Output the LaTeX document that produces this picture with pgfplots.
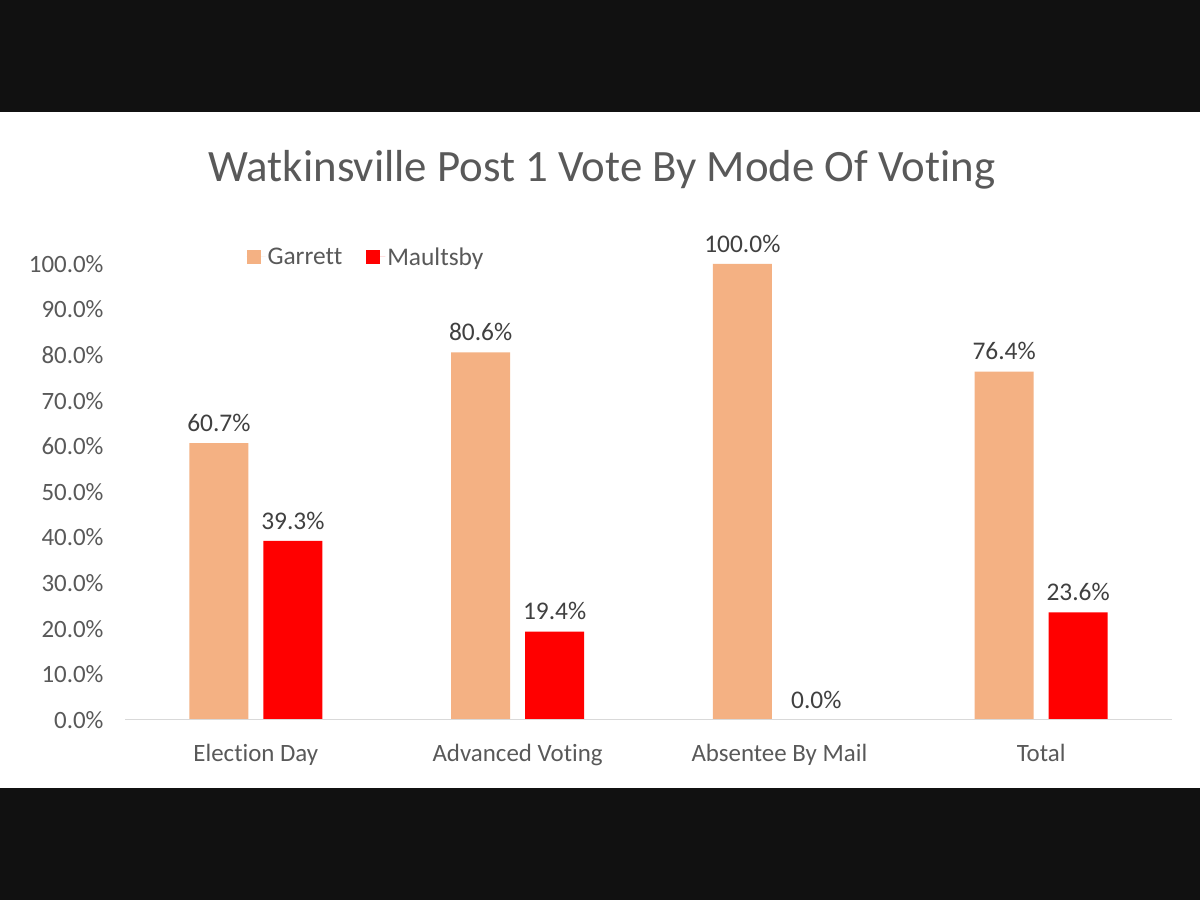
\documentclass[border=0pt]{standalone}
\usepackage{fontspec}
\setmainfont{Carlito}[Ligatures={NoCommon}]
\usepackage{pgfplots}
\pgfplotsset{compat=1.18}
\definecolor{garrett}{HTML}{F4B183}
\definecolor{maultsby}{HTML}{FF0000}
\definecolor{txt}{HTML}{595959}
\definecolor{lbl}{HTML}{404040}
\definecolor{band}{HTML}{111111}
\begin{document}
\begin{tikzpicture}[x=1bp,y=1bp]
\useasboundingbox (0,0) rectangle (1200,900);
\fill[band] (0,0) rectangle (1200,900);
\fill[white] (0,112) rectangle (1200,788);
\node[text=txt,font=\fontsize{45}{52}\selectfont] at (602,730) {Watkinsville Post 1 Vote By Mode Of Voting};
\begin{axis}[
  at={(125bp,180bp)}, anchor=south west,
  scale only axis, width=1047bp, height=456bp,
  xmin=-0.5, xmax=3.5, ymin=0, ymax=100,
  ybar=15bp, bar width=59bp,
  axis y line*=left,
  y axis line style={draw=none},
  axis x line*=bottom,
  x axis line style={draw=black!15, line width=1bp},
  axis on top,
  xtick={0,1,2,3},
  xticklabels={Election Day, Advanced Voting, Absentee By Mail, Total},
  major tick length=0pt,
  xticklabel style={text=txt, font=\fontsize{25}{28}\selectfont, yshift=-21bp},
  ytick={0,10,...,100},
  yticklabel={\pgfmathprintnumber[fixed,fixed zerofill,precision=1]{\tick}\%},
  /pgf/number format/assume math mode=true,
  yticklabel style={text=txt, font=\fontsize{25}{28}\selectfont, xshift=-18bp},
  nodes near coords={\pgfmathprintnumber[fixed,fixed zerofill,precision=1]{\pgfplotspointmeta}\%},
  nodes near coords style={text=lbl, font=\fontsize{25.5}{28}\selectfont, yshift=8bp},
  legend style={at={(axis description cs:0.2302,1.0154)}, anchor=center, draw=none, fill=none,
     font=\fontsize{25.5}{28}\selectfont, text=txt, legend columns=2,
     /tikz/every even column/.append style={column sep=22bp},
     /tikz/every odd column/.append style={column sep=0bp}},
  legend image code/.code={\fill[#1] (0bp,-7bp) rectangle (14bp,7bp); \path (0bp,0bp) -- (19bp,0bp);},
  clip=false,
]
\addplot[fill=garrett, draw=none] coordinates {(0,60.7) (1,80.6) (2,100.0) (3,76.4)};
\addplot[fill=maultsby, draw=none] coordinates {(0,39.3) (1,19.4) (2,0.0) (3,23.6)};
\legend{Garrett, Maultsby}
\end{axis}
\end{tikzpicture}
\end{document}
